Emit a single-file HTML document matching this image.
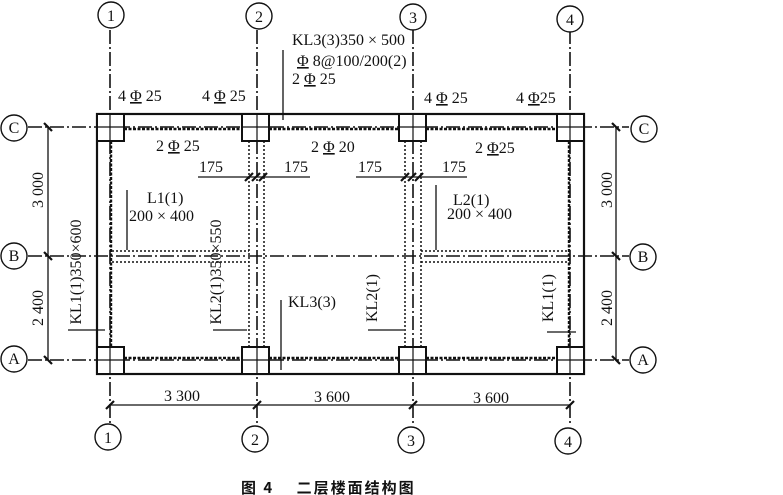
<!DOCTYPE html>
<html><head><meta charset="utf-8"><style>
html,body{margin:0;padding:0;background:#fff;}
svg{display:block;}
text{font-family:"Liberation Serif","Noto Serif CJK SC",serif;font-size:16px;fill:#111;}
.u{text-decoration:underline;}
</style></head><body>
<svg width="783" height="495" viewBox="0 0 783 495" xmlns="http://www.w3.org/2000/svg">
<g stroke="#111" fill="none">
<g stroke-width="1.6" stroke-dasharray="14,3,2,3">
<line x1="110" y1="30" x2="110" y2="424"/>
<line x1="257" y1="30" x2="257" y2="424"/>
<line x1="413" y1="30" x2="413" y2="424"/>
<line x1="570" y1="30" x2="570" y2="424"/>
</g>
<g stroke-width="1.6" stroke-dasharray="14,3,2,3">
<line x1="28" y1="127" x2="629" y2="127"/>
<line x1="28" y1="256" x2="629" y2="256"/>
<line x1="28" y1="360" x2="629" y2="360"/>
</g>
<rect x="97" y="114" width="487" height="260" stroke-width="2.2"/>
<g stroke-width="2" fill="#fff">
<rect x="97" y="114" width="27" height="27"/>
<rect x="242" y="114" width="27" height="27"/>
<rect x="399" y="114" width="27" height="27"/>
<rect x="557" y="114" width="27" height="27"/>
<rect x="97" y="347" width="27" height="27"/>
<rect x="242" y="347" width="27" height="27"/>
<rect x="399" y="347" width="27" height="27"/>
<rect x="557" y="347" width="27" height="27"/>
</g>
<g stroke-width="1.2">
<line x1="110" y1="114" x2="110" y2="141"/><line x1="97" y1="127" x2="124" y2="127"/>
<line x1="257" y1="114" x2="257" y2="141"/><line x1="242" y1="127" x2="269" y2="127"/>
<line x1="413" y1="114" x2="413" y2="141"/><line x1="399" y1="127" x2="426" y2="127"/>
<line x1="570" y1="114" x2="570" y2="141"/><line x1="557" y1="127" x2="584" y2="127"/>
<line x1="110" y1="347" x2="110" y2="374"/><line x1="97" y1="360" x2="124" y2="360"/>
<line x1="257" y1="347" x2="257" y2="374"/><line x1="242" y1="360" x2="269" y2="360"/>
<line x1="413" y1="347" x2="413" y2="374"/><line x1="399" y1="360" x2="426" y2="360"/>
<line x1="570" y1="347" x2="570" y2="374"/><line x1="557" y1="360" x2="584" y2="360"/>
</g>
<g stroke-width="2.4" stroke-dasharray="3,1.5">
<line x1="124" y1="129" x2="242" y2="129"/>
<line x1="269" y1="129" x2="399" y2="129"/>
<line x1="426" y1="129" x2="557" y2="129"/>
<line x1="124" y1="358" x2="242" y2="358"/>
<line x1="269" y1="358" x2="399" y2="358"/>
<line x1="426" y1="358" x2="557" y2="358"/>
<line x1="111" y1="141" x2="111" y2="347"/>
<line x1="569" y1="141" x2="569" y2="347"/>
</g>
<g stroke-width="1.5" stroke-dasharray="2,2">
<line x1="249" y1="141" x2="249" y2="347"/>
<line x1="264" y1="141" x2="264" y2="347"/>
<line x1="405" y1="141" x2="405" y2="347"/>
<line x1="421" y1="141" x2="421" y2="347"/>
<line x1="112" y1="251" x2="249" y2="251"/>
<line x1="112" y1="262" x2="249" y2="262"/>
<line x1="421" y1="251" x2="569" y2="251"/>
<line x1="421" y1="262" x2="569" y2="262"/>
</g>
<g stroke-width="1.3">
<line x1="48" y1="127" x2="48" y2="360"/>
<line x1="616" y1="127" x2="616" y2="360"/>
<line x1="110" y1="405" x2="570" y2="405"/>
<line x1="198" y1="177" x2="310" y2="177"/>
<line x1="356" y1="177" x2="467" y2="177"/>
<line x1="283" y1="50" x2="283" y2="120"/>
<line x1="127" y1="190" x2="127" y2="250"/>
<line x1="436" y1="185" x2="436" y2="250"/>
<line x1="68" y1="330" x2="105" y2="330"/>
<line x1="213" y1="330" x2="247" y2="330"/>
<line x1="368" y1="330" x2="404" y2="330"/>
<line x1="547" y1="332" x2="576" y2="332"/>
<line x1="281" y1="300" x2="281" y2="370"/>
</g>
<g stroke-width="2.2">
<line x1="44" y1="123" x2="52" y2="131"/><line x1="44" y1="252" x2="52" y2="260"/><line x1="44" y1="356" x2="52" y2="364"/>
<line x1="612" y1="123" x2="620" y2="131"/><line x1="612" y1="252" x2="620" y2="260"/><line x1="612" y1="356" x2="620" y2="364"/>
<line x1="106" y1="409" x2="114" y2="401"/><line x1="253" y1="409" x2="261" y2="401"/><line x1="409" y1="409" x2="417" y2="401"/><line x1="566" y1="409" x2="574" y2="401"/>
<line x1="245" y1="181" x2="253" y2="173"/><line x1="252" y1="181" x2="260" y2="173"/><line x1="259" y1="181" x2="267" y2="173"/>
<line x1="401" y1="181" x2="409" y2="173"/><line x1="408" y1="181" x2="416" y2="173"/><line x1="415" y1="181" x2="423" y2="173"/>
</g>
<g stroke-width="1.4" fill="#fff">
<circle cx="111" cy="15" r="13"/><circle cx="259" cy="16" r="13"/><circle cx="413" cy="17" r="13"/><circle cx="570" cy="19" r="13"/>
<circle cx="108" cy="437" r="13"/><circle cx="255" cy="439" r="13"/><circle cx="411" cy="440" r="13"/><circle cx="568" cy="441" r="13"/>
<circle cx="14" cy="128" r="13"/><circle cx="14" cy="256" r="13"/><circle cx="14" cy="359" r="13"/>
<circle cx="644" cy="129" r="13"/><circle cx="643" cy="257" r="13"/><circle cx="643" cy="360" r="13"/>
</g>
</g>
<g text-anchor="middle">
<text x="111" y="21">1</text><text x="259" y="22">2</text><text x="413" y="23">3</text><text x="570" y="25">4</text>
<text x="108" y="443">1</text><text x="255" y="445">2</text><text x="411" y="446">3</text><text x="568" y="447">4</text>
<text x="14" y="133">C</text><text x="14" y="261">B</text><text x="14" y="364">A</text>
<text x="644" y="134">C</text><text x="643" y="262">B</text><text x="643" y="365">A</text>
<text x="182" y="401">3 300</text><text x="332" y="402">3 600</text><text x="491" y="403">3 600</text>
<text x="211" y="172">175</text><text x="296" y="172">175</text><text x="370" y="172">175</text><text x="454" y="172">175</text>
</g>
<text x="38" y="190" text-anchor="middle" transform="rotate(-90 38 190)" dy="5">3 000</text>
<text x="38" y="308" text-anchor="middle" transform="rotate(-90 38 308)" dy="5">2 400</text>
<text x="607" y="190" text-anchor="middle" transform="rotate(-90 607 190)" dy="5">3 000</text>
<text x="607" y="308" text-anchor="middle" transform="rotate(-90 607 308)" dy="5">2 400</text>
<text x="76" y="272" text-anchor="middle" transform="rotate(-90 76 272)" dy="5">KL1(1)350×600</text>
<text x="216" y="272" text-anchor="middle" transform="rotate(-90 216 272)" dy="5">KL2(1)350×550</text>
<text x="372" y="298" text-anchor="middle" transform="rotate(-90 372 298)" dy="5">KL2(1)</text>
<text x="548" y="298" text-anchor="middle" transform="rotate(-90 548 298)" dy="5">KL1(1)</text>
<text x="118" y="101">4 <tspan class="u">Φ</tspan> 25</text>
<text x="202" y="101">4 <tspan class="u">Φ</tspan> 25</text>
<text x="424" y="103">4 <tspan class="u">Φ</tspan> 25</text>
<text x="516" y="103">4 <tspan class="u">Φ</tspan>25</text>
<text x="156" y="151">2 <tspan class="u">Φ</tspan> 25</text>
<text x="311" y="152">2 <tspan class="u">Φ</tspan> 20</text>
<text x="475" y="153">2 <tspan class="u">Φ</tspan>25</text>
<text x="292" y="45">KL3(3)350 × 500</text>
<text x="297" y="66"><tspan class="u">Φ</tspan> 8@100/200(2)</text>
<text x="292" y="84">2 <tspan class="u">Φ</tspan> 25</text>
<text x="147" y="203">L1(1)</text>
<text x="129" y="221">200 × 400</text>
<text x="453" y="205">L2(1)</text>
<text x="447" y="219">200 × 400</text>
<text x="288" y="307">KL3(3)</text>
<text x="241" y="493" style="font-family:'Noto Sans CJK SC',sans-serif;font-weight:bold;font-size:15px;letter-spacing:2px">图 4　 二层楼面结构图</text>
</svg>
</body></html>
